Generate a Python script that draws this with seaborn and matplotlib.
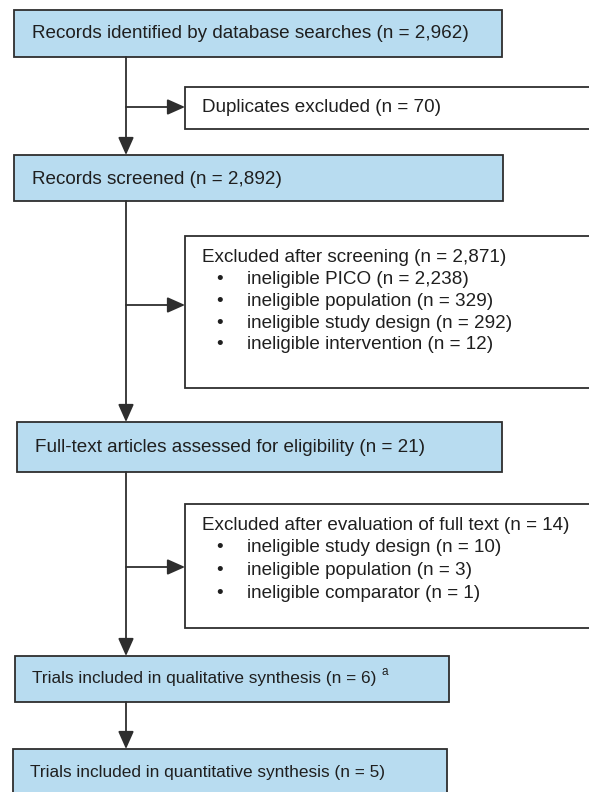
import matplotlib
matplotlib.use("Agg")
import matplotlib.pyplot as plt
import seaborn as sns
from matplotlib.patches import Rectangle

# ---- data ----
n_identified = 2962
n_duplicates = 70
n_screened = 2892
n_excl_screen = 2871
screen_reasons = ["ineligible PICO", "ineligible population",
                  "ineligible study design", "ineligible intervention"]
screen_counts = [2238, 329, 292, 12]
n_fulltext = 21
n_excl_full = 14
full_reasons = ["ineligible study design", "ineligible population",
                "ineligible comparator"]
full_counts = [10, 3, 1]
n_qualitative = 6
n_quantitative = 5

def fmt(n):
    return f"{n:,}"

sns.set_theme(style="white")
plt.rcParams["font.family"] = ["Liberation Sans", "DejaVu Sans"]

fig = plt.figure(figsize=(5.89, 7.92), dpi=100)
ax = fig.add_axes([0, 0, 1, 1])
ax.set_xlim(0, 589)
ax.set_ylim(792, 0)
ax.axis("off")

FILL = "#b8dcf0"
EDGE = "#2e2e2e"
FS = 13.6
TXT = "#1f1f1f"

def box(x0, y0, x1, y1, fill):
    ax.add_patch(Rectangle((x0, y0), x1 - x0, y1 - y0, facecolor=fill,
                           edgecolor=EDGE, linewidth=1.3, zorder=2))

def arrow(x0, y0, x1, y1):
    ax.annotate("", xy=(x1, y1), xytext=(x0, y0),
                arrowprops=dict(arrowstyle="-|>,head_length=0.9,head_width=0.4",
                                color=EDGE, lw=1.3, shrinkA=0, shrinkB=0),
                zorder=3)

def label(x, y, s, fs=FS):
    return ax.text(x, y + 1, s, fontsize=fs, color=TXT, va="center", ha="left",
                   zorder=4)

# main column boxes
box(14, 10, 502, 57, FILL)
label(32, 33, f"Records identified by database searches (n = {fmt(n_identified)})")

box(14, 155, 503, 201, FILL)
label(32, 178, f"Records screened (n = {fmt(n_screened)})")

box(17, 422, 502, 472, FILL)
label(35, 446, f"Full-text articles assessed for eligibility (n = {n_fulltext})")

# the last two boxes use a tighter-set line in the original
box(15, 656, 449, 702, FILL)
t4 = label(32, 678, f"Trials included in qualitative synthesis (n = {n_qualitative})", fs=12.4)

box(13, 749, 447, 810, FILL)
label(30, 771, f"Trials included in quantitative synthesis (n = {n_quantitative})", fs=12.4)

# side boxes (run off the right edge)
box(185, 87, 610, 129, "white")
label(202, 107, f"Duplicates excluded (n = {n_duplicates})")

box(185, 236, 610, 388, "white")
label(202, 256, f"Excluded after screening (n = {fmt(n_excl_screen)})")
for i, (r, c) in enumerate(zip(screen_reasons, screen_counts)):
    y = 279 + i * 21.5
    label(216, y, "\u2022")
    label(247, y, f"{r} (n = {fmt(c)})")

box(185, 504, 610, 628, "white")
label(202, 524, f"Excluded after evaluation of full text (n = {n_excl_full})")
for i, (r, c) in enumerate(zip(full_reasons, full_counts)):
    y = 547 + i * 22.5
    label(216, y, "\u2022")
    label(247, y, f"{r} (n = {c})")

# superscript marker after qualitative synthesis text
fig.canvas.draw()
bb = t4.get_window_extent(renderer=fig.canvas.get_renderer())
xr = ax.transData.inverted().transform((bb.x1, bb.y0))[0]
ax.text(xr + 5, 672, "a", fontsize=8.5, color=TXT, va="center", ha="left", zorder=4)

# connectors
XC = 126
arrow(XC, 57, XC, 155)
arrow(XC, 201, XC, 422)
arrow(XC, 472, XC, 656)
arrow(XC, 702, XC, 749)
arrow(XC, 107, 185, 107)
arrow(XC, 305, 185, 305)
arrow(XC, 567, 185, 567)

fig.savefig("out.png", dpi=100)
